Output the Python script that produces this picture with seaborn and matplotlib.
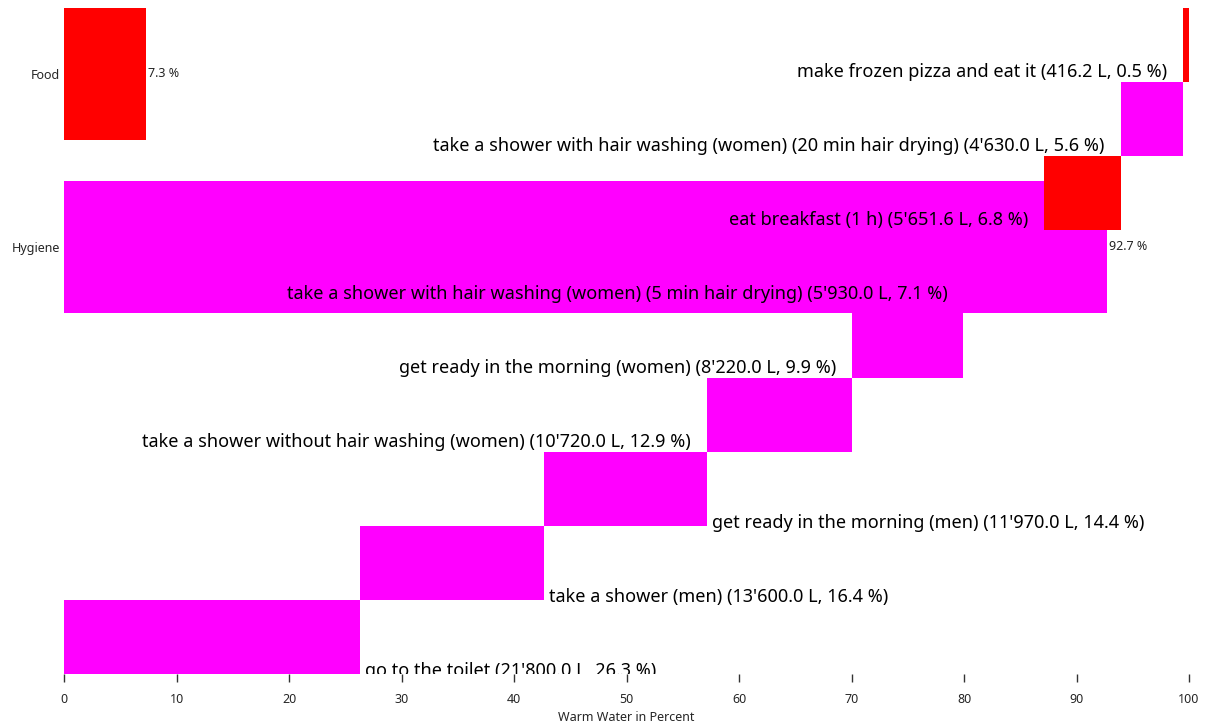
import numpy as np
import seaborn as sns
import matplotlib.pyplot as plt

# categories (sum of shares)
categories = ['Food', 'Hygiene']
category_share = [7.3, 92.7]

# activities, largest first (bottom of the waterfall to the top)
activities = [
    'go to the toilet',
    'take a shower (men)',
    'get ready in the morning (men)',
    'take a shower without hair washing (women)',
    'get ready in the morning (women)',
    'take a shower with hair washing (women) (5 min hair drying)',
    'eat breakfast (1 h)',
    'take a shower with hair washing (women) (20 min hair drying)',
    'make frozen pizza and eat it',
]
activity_category = ['Hygiene', 'Hygiene', 'Hygiene', 'Hygiene', 'Hygiene',
                     'Hygiene', 'Food', 'Hygiene', 'Food']
liters = [21800.0, 13600.0, 11970.0, 10720.0, 8220.0, 5930.0, 5651.6, 4630.0, 416.2]

colors = {'Food': '#ff0000', 'Hygiene': '#ff00ff'}

sns.set_theme(style='white')
plt.rcParams['font.family'] = ['Noto Sans', 'DejaVu Sans']

share = np.array(liters) / sum(liters) * 100
left = np.concatenate([[0], np.cumsum(share)[:-1]])

fig = plt.figure(figsize=(12.15, 7.24), dpi=100)
ax = fig.add_axes([0.0527, 0.0691, 0.9259, 0.9199])

# category bars (band layout from the top)
band_step = 2.34
bar_h = 1.78
cat_y = [len(activities) - bar_h / 2 - i * band_step for i in range(len(categories))]
for c, y, v in zip(categories, cat_y, category_share):
    ax.barh(y, v, height=bar_h, left=0, color=colors[c], edgecolor='none')
    ax.text(v + 0.15, y, f'{v} %', va='center', ha='left', fontsize=9, color='#222222')

# waterfall step bars
for i, (cat, l, s) in enumerate(zip(activity_category, left, share)):
    ax.barh(i, s, height=1.0, left=l, align='edge', color=colors[cat], edgecolor='none')

# labels on top of everything
for i, (name, l, s, lit) in enumerate(zip(activities, left, share, liters)):
    lit_txt = f'{lit:,.1f}'.replace(',', "'")
    label = f'{name} ({lit_txt} L, {s:.1f} %)'
    if l < 50:
        ax.annotate(label, xy=(l + s, i), xytext=(3.6, 2.2), textcoords='offset points',
                    ha='left', va='center', fontsize=13, color='black', clip_on=True)
    else:
        ax.annotate(label, xy=(l, i), xytext=(-11.5, 7.5), textcoords='offset points',
                    ha='right', va='center', fontsize=13, color='black', clip_on=True)

ax.set_xlim(0, 100)
ax.set_ylim(0, len(activities))
ax.set_xticks(range(0, 101, 10))
ax.set_yticks(cat_y)
ax.set_yticklabels(categories)
ax.tick_params(axis='x', bottom=True, length=6, width=1, color='#333333', labelsize=9, pad=8)
ax.tick_params(axis='y', left=False, length=0, labelsize=9, pad=3)
ax.set_xlabel('Warm Water in Percent', fontsize=9, labelpad=3)
for sp in ax.spines.values():
    sp.set_visible(False)

fig.savefig('out.png', dpi=100)
